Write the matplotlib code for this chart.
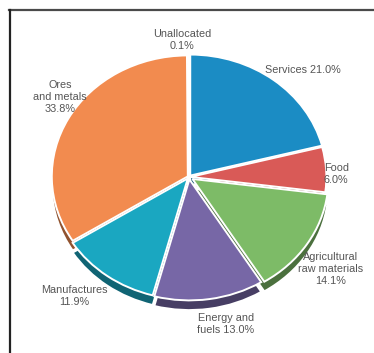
import numpy as np
import matplotlib.pyplot as plt
from matplotlib.lines import Line2D
from matplotlib.colors import to_rgb

# slices, clockwise from the top
categories = ['Services', 'Food', 'Agricultural raw materials', 'Energy and fuels',
              'Manufactures', 'Ores and metals', 'Unallocated']
shares = [21.0, 6.0, 14.1, 13.0, 11.9, 33.8, 0.1]
colors = ['#1b8cc4', '#d95a57', '#7dbb67', '#7767a6', '#1aa7c1', '#f28b4f', '#e8eef2']
explode = [0.015, 0.01, 0.03, 0.02, 0.015, 0.01, 0.02]

label_texts = ['Services 21.0%', 'Food\n6.0%', 'Agricultural\nraw materials\n14.1%',
               'Energy and\nfuels 13.0%', 'Manufactures\n11.9%', 'Ores\nand metals\n33.8%',
               'Unallocated\n0.1%']

W, H = 374, 353
fig = plt.figure(figsize=(W / 100, H / 100), dpi=100)
ax = fig.add_axes([0, 0, 1, 1])

cx, cy, rx, ry = 189, 177, 136, 121


def darker(c, f=0.6):
    r, g, b = to_rgb(c)
    return (r * f, g * f, b * f)


# side of the "3D" pie
ax.pie(shares, colors=[darker(c) for c in colors], startangle=90, counterclock=False,
       explode=explode, center=(0, -0.08), radius=1,
       wedgeprops=dict(edgecolor='white', linewidth=1.4))
# top surface
ax.pie(shares, colors=colors, startangle=90, counterclock=False,
       explode=explode, center=(0, 0), radius=1,
       wedgeprops=dict(edgecolor='white', linewidth=1.4))

ax.set_aspect('auto')
ax.set_xlim(-cx / rx, (W - cx) / rx)
ax.set_ylim((cy - H) / ry, cy / ry)
ax.axis('off')

# label positions in pixels (x, y of text centre)
label_pos = [(265, 70, 'left'), (324, 174, 'left'), (331, 269, 'center'),
             (226, 324, 'center'), (74, 296, 'center'), (60, 97, 'center'),
             (182, 40, 'center')]
for txt, (px, py, ha) in zip(label_texts, label_pos):
    fig.text(px / W, 1 - py / H, txt, ha=ha, va='center', fontsize=7.8,
             color='#555555', family=['Liberation Sans', 'DejaVu Sans'],
             linespacing=1.3)

# frame lines (top and left)
fig.add_artist(Line2D([9 / W, 1], [1 - 10 / H, 1 - 10 / H], color='#4a4a4a',
                      linewidth=1.6, transform=fig.transFigure))
fig.add_artist(Line2D([9.5 / W, 9.5 / W], [0, 1 - 10 / H], color='#222222',
                      linewidth=1.6, transform=fig.transFigure))

fig.savefig('out.png', dpi=100)
